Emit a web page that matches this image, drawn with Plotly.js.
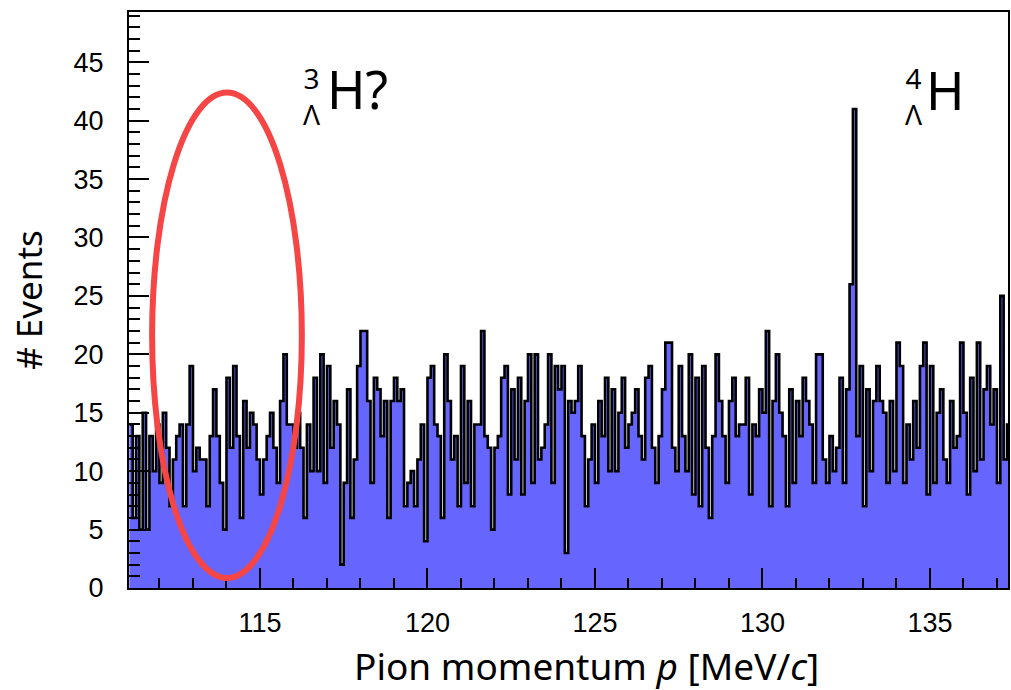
<!DOCTYPE html>
<html>
<head>
<meta charset="utf-8">
<script src="https://cdn.plot.ly/plotly-3.0.1.min.js"></script>
<style>html,body{margin:0;padding:0;background:#fff;}#chart{width:1011px;height:690px;}</style>
</head>
<body>
<div id="chart"></div>
<script>
// Histogram of pion momentum (MeV/c), bins of 0.1 MeV/c starting at 111.1
var binStart = 111.1;
var binWidth = 0.1;
var counts = [
  14, 6, 13, 5, 15, 5, 13, 10, 14, 9, 15, 12, 7, 11, 13, 14, 7, 14, 19, 10, 12, 11, 11, 7, 13, 17,
  13, 9, 5, 18, 12, 19, 13, 6, 16, 12, 15, 14, 11, 8, 11, 13, 15, 12, 9, 16, 20, 14, 14, 12, 15, 12,
  6, 14, 10, 18, 10, 20, 9, 19, 12, 16, 14, 2, 9, 17, 6, 11, 19, 22, 22, 16, 9, 18, 17, 13, 16, 6,
  16, 18, 16, 17, 7, 9, 10, 7, 11, 14, 4, 18, 19, 14, 13, 6, 20, 16, 11, 13, 7, 19, 9, 16, 7, 14,
  14, 22, 13, 12, 5, 12, 13, 18, 19, 8, 17, 11, 18, 8, 16, 20, 9, 20, 11, 12, 14, 20, 9, 19, 17, 19, 3,
  16, 15, 16, 19, 13, 7, 11, 14, 9, 16, 13, 18, 10, 17, 10, 15, 18, 12, 14, 15, 17, 13, 11, 18, 19, 12,
  9, 13, 17, 21, 21, 12, 10, 19, 13, 10, 20, 8, 18, 7, 19, 12, 6, 13, 20, 16, 13, 9, 16, 18, 13, 14,
  14, 18, 8, 14, 13, 17, 15, 22, 7, 16, 20, 15, 13, 7, 17, 9, 16, 13, 18, 16, 14, 9, 20, 20, 11, 9,
  13, 10, 12, 18, 9, 17, 26, 41, 13, 19, 7, 17, 10, 16, 19, 16, 15, 9, 16, 10, 21, 19, 9, 14, 11, 16, 12,
  19, 21, 8, 19, 9, 15, 17, 11, 9, 16, 12, 13, 21, 15, 8, 18, 10, 21, 11, 17, 19, 14, 17, 9, 25, 11, 14
];
var xTickVals = [115, 120, 125, 130, 135];
var yTickVals = [0, 5, 10, 15, 20, 25, 30, 35, 40, 45];
var peakLabels = [
  {mass: "3", name: "H?"},
  {mass: "4", name: "H"}
];

// step outline: left edges + final right edge
var xs = [], ys = [];
for (var i = 0; i < counts.length; i++) {
  xs.push(+(binStart + i * binWidth).toFixed(4));
  ys.push(counts[i]);
}
xs.push(+(binStart + counts.length * binWidth).toFixed(4));
ys.push(counts[counts.length - 1]);

var trace = {
  x: xs, y: ys, type: 'scatter', mode: 'lines',
  line: {shape: 'hv', color: '#000000', width: 2.6},
  fill: 'tozeroy', fillcolor: '#6666ff',
  hoverinfo: 'x+y', showlegend: false
};

var tickFont = {family: 'Liberation Sans, Arial, sans-serif', size: 27, color: '#000'};
var txtFont = 'Noto Sans, Open Sans, sans-serif';

var layout = {
  width: 1011, height: 690,
  margin: {l: 129, r: 3, t: 12, b: 102},
  paper_bgcolor: '#fff', plot_bgcolor: '#fff',
  showlegend: false,
  xaxis: {
    range: [111.09, 137.33],
    tickvals: xTickVals, ticktext: xTickVals.map(String),
    ticks: 'inside', ticklen: 20, tickwidth: 2, tickcolor: '#000',
    minor: {dtick: 1, tick0: 0, ticks: 'inside', ticklen: 10, tickwidth: 2, tickcolor: '#000', showgrid: false},
    showline: true, linecolor: '#000', linewidth: 2, mirror: true,
    showgrid: false, zeroline: false,
    tickfont: tickFont, ticklabelstandoff: 10
  },
  yaxis: {
    range: [0, 49.3],
    tickvals: yTickVals, ticktext: yTickVals.map(String),
    ticks: 'inside', ticklen: 20, tickwidth: 2, tickcolor: '#000',
    minor: {dtick: 1, tick0: 0, ticks: 'inside', ticklen: 11, tickwidth: 2, tickcolor: '#000', showgrid: false},
    showline: true, linecolor: '#000', linewidth: 2, mirror: true,
    showgrid: false, zeroline: false,
    tickfont: tickFont, ticklabelstandoff: 18,
    title: {text: '# Events', font: {family: txtFont, size: 35, color: '#000'}, standoff: 20}
  },
  shapes: [{
    type: 'circle', xref: 'x', yref: 'y',
    x0: 111.78, x1: 116.25, y0: 0.86, y1: 42.4,
    line: {color: '#f54545', width: 6}, fillcolor: 'rgba(0,0,0,0)'
  }],
  annotations: [
    {xref: 'paper', yref: 'paper', x: 0.521, y: -0.134, text: 'Pion momentum <i>p</i> [MeV/<i>c</i>]', showarrow: false, xanchor: 'center', yanchor: 'middle', font: {family: txtFont, size: 37, color: '#000'}},
    {xref: 'paper', yref: 'paper', x: 0.2085, y: 0.855, text: peakLabels[0].mass + '<br>Λ', showarrow: false, xanchor: 'center', yanchor: 'middle', align: 'center', font: {family: txtFont, size: 28, color: '#000'}},
    {xref: 'paper', yref: 'paper', x: 0.2225, y: 0.868, text: peakLabels[0].name, showarrow: false, xanchor: 'left', yanchor: 'middle', font: {family: txtFont, size: 52, color: '#000'}},
    {xref: 'paper', yref: 'paper', x: 0.8925, y: 0.855, text: peakLabels[1].mass + '<br>Λ', showarrow: false, xanchor: 'center', yanchor: 'middle', align: 'center', font: {family: txtFont, size: 28, color: '#000'}},
    {xref: 'paper', yref: 'paper', x: 0.9040, y: 0.865, text: peakLabels[1].name, showarrow: false, xanchor: 'left', yanchor: 'middle', font: {family: txtFont, size: 52, color: '#000'}}
  ]
};

Plotly.newPlot('chart', [trace], layout, {displayModeBar: false, staticPlot: true});
</script>
</body>
</html>
